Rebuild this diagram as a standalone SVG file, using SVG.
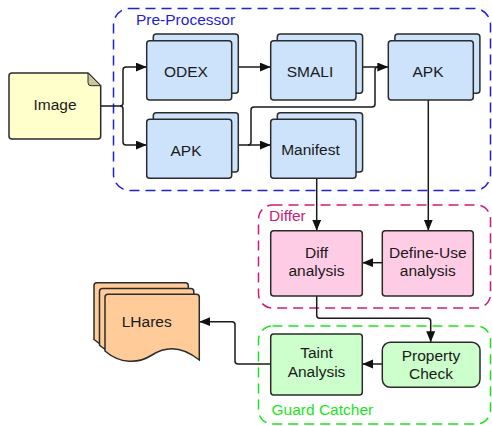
<svg xmlns="http://www.w3.org/2000/svg" width="492" height="426" viewBox="0 0 492 426">
  <style>
    text { font-family: "Liberation Sans", Arial, sans-serif; font-size: 15.5px; fill: #1a1a1a; }
    .lbl { text-anchor: middle; }
    .node { stroke: #2b2b2b; stroke-width: 1.5; }
    .blue { fill: #cce3fb; }
    .pink { fill: #ffcce6; }
    .green { fill: #ccffcc; }
    .orange { fill: #ffcc99; }
    .yellow { fill: #ffffcc; }
    .group { fill: none; stroke-width: 1.5; stroke-dasharray: 10 6; }
    .wire { fill: none; stroke: #1a1a1a; stroke-width: 1.5; }
  </style>
  <defs>
    <marker id="arrow" markerUnits="userSpaceOnUse" markerWidth="12" markerHeight="10" refX="11" refY="4.5" orient="auto">
      <path d="M0,0 L11,4.5 L0,9 Z" fill="#111"/>
    </marker>
  </defs>

  <!-- stage containers -->
  <g id="pre-processor">
    <rect class="group" x="113.5" y="8.5" width="377" height="182" rx="16" stroke="#1f1fd6"/>
    <text x="136" y="25" fill="#1f1fd6" style="fill:#1f1fd6">Pre-Processor</text>
  </g>
  <g id="differ">
    <rect class="group" x="258.5" y="205" width="232" height="103" rx="14" stroke="#d41a78"/>
    <text x="269" y="220.5" style="fill:#d41a78">Differ</text>
  </g>
  <g id="guard-catcher">
    <rect class="group" x="258.5" y="326" width="232" height="98" rx="14" stroke="#19e619"/>
    <text x="271.5" y="415" style="fill:#19e619">Guard Catcher</text>
  </g>

  <!-- connectors -->
  <g id="connectors">
    <path class="wire" d="M100.7,106 H120 Q123,106 123,103 V70 Q123,67 126,67 H146.7" marker-end="url(#arrow)"/>
    <path class="wire" d="M120,106 Q123,106 123,109 V142 Q123,145 126,145 H146.7" marker-end="url(#arrow)"/>
    <path class="wire" d="M238,67 H270.7" marker-end="url(#arrow)"/>
    <path class="wire" d="M362.7,67 H388.3" marker-end="url(#arrow)"/>
    <path class="wire" d="M238,145 H270.7" marker-end="url(#arrow)"/>
    <path class="wire" d="M248,145 Q251,145 251,142 V110 Q251,107 254,107 H372 Q375,107 375,104 V70 Q375,67 378,67"/>
    <path class="wire" d="M316.7,178.3 V230.7" marker-end="url(#arrow)"/>
    <path class="wire" d="M428.3,100 V230.7" marker-end="url(#arrow)"/>
    <path class="wire" d="M382.3,262.7 H362.3" marker-end="url(#arrow)"/>
    <path class="wire" d="M316.7,296 V315.3 Q316.7,318.3 319.7,318.3 H427.7 Q430.7,318.3 430.7,321.3 V342.3" marker-end="url(#arrow)"/>
    <path class="wire" d="M382.3,364 H362.3" marker-end="url(#arrow)"/>
    <path class="wire" d="M270.7,364 H238 Q235,364 235,361 V324.7 Q235,321.7 232,321.7 H199.3" marker-end="url(#arrow)"/>
  </g>

  <!-- source image -->
  <g id="image">
    <path class="node yellow" d="M12,73 H88 L100.7,85.7 V136 Q100.7,139 97.7,139 H12 Q9,139 9,136 V76 Q9,73 12,73 Z"/>
    <path d="M88,73 L100.7,85.7 H91 Q88,85.7 88,82.7 Z" fill="#c9c69e" stroke="#2b2b2b" stroke-width="1"/>
    <text class="lbl" x="55" y="110">Image</text>
  </g>

  <!-- pre-processor outputs (stacked) -->
  <g id="odex">
    <rect class="node blue" x="153.3" y="34" width="85" height="59.3" rx="3"/>
    <rect class="node blue" x="146.7" y="40.7" width="85" height="59.3" rx="3"/>
    <text class="lbl" x="186" y="76.7">ODEX</text>
  </g>
  <g id="smali">
    <rect class="node blue" x="277.3" y="34" width="85.3" height="59.3" rx="3"/>
    <rect class="node blue" x="270.7" y="40.7" width="85.3" height="59.3" rx="3"/>
    <text class="lbl" x="310" y="76.7">SMALI</text>
  </g>
  <g id="apk-rebuilt">
    <rect class="node blue" x="394.9" y="34" width="85" height="59.3" rx="3"/>
    <rect class="node blue" x="388.3" y="40.7" width="85" height="59.3" rx="3"/>
    <text class="lbl" x="428" y="76.7">APK</text>
  </g>
  <g id="apk">
    <rect class="node blue" x="153.3" y="112.7" width="85" height="59.3" rx="3"/>
    <rect class="node blue" x="146.7" y="119.3" width="85" height="59" rx="3"/>
    <text class="lbl" x="186" y="155.5">APK</text>
  </g>
  <g id="manifest">
    <rect class="node blue" x="277.3" y="112.7" width="85.3" height="59.3" rx="3"/>
    <rect class="node blue" x="270.7" y="119.3" width="85.3" height="59" rx="3"/>
    <text class="lbl" x="310.5" y="155">Manifest</text>
  </g>

  <!-- differ -->
  <g id="diff-analysis">
    <rect class="node pink" x="270.7" y="230.7" width="91.6" height="65.3" rx="3"/>
    <text class="lbl" x="316.5" y="257.7">Diff</text>
    <text class="lbl" x="316.5" y="276">analysis</text>
  </g>
  <g id="define-use">
    <rect class="node pink" x="382.3" y="230.7" width="91" height="65.3" rx="3"/>
    <text class="lbl" x="427.8" y="257.7">Define-Use</text>
    <text class="lbl" x="427.8" y="276">analysis</text>
  </g>

  <!-- guard catcher -->
  <g id="taint-analysis">
    <rect class="node green" x="270.7" y="334" width="91.6" height="61" rx="3"/>
    <text class="lbl" x="316.5" y="358.3">Taint</text>
    <text class="lbl" x="316.5" y="377.3">Analysis</text>
  </g>
  <g id="property-check">
    <rect class="node green" x="382.3" y="342.3" width="97.7" height="45" rx="8"/>
    <text class="lbl" x="431" y="360.7">Property</text>
    <text class="lbl" x="431" y="379">Check</text>
  </g>

  <!-- reports -->
  <g id="lhares">
    <path class="node orange" transform="translate(-11,-11.5)" d="M108,294.3 H196.3 Q199.3,294.3 199.3,297.3 V360 C182,346 166,346 152,355 C138,364 120,364 105,351 V297.3 Q105,294.3 108,294.3 Z"/>
    <path class="node orange" transform="translate(-5.5,-5.7)" d="M108,294.3 H196.3 Q199.3,294.3 199.3,297.3 V360 C182,346 166,346 152,355 C138,364 120,364 105,351 V297.3 Q105,294.3 108,294.3 Z"/>
    <path class="node orange" d="M108,294.3 H196.3 Q199.3,294.3 199.3,297.3 V360 C182,346 166,346 152,355 C138,364 120,364 105,351 V297.3 Q105,294.3 108,294.3 Z"/>
    <text class="lbl" x="146.7" y="326.7">LHares</text>
  </g>
</svg>
